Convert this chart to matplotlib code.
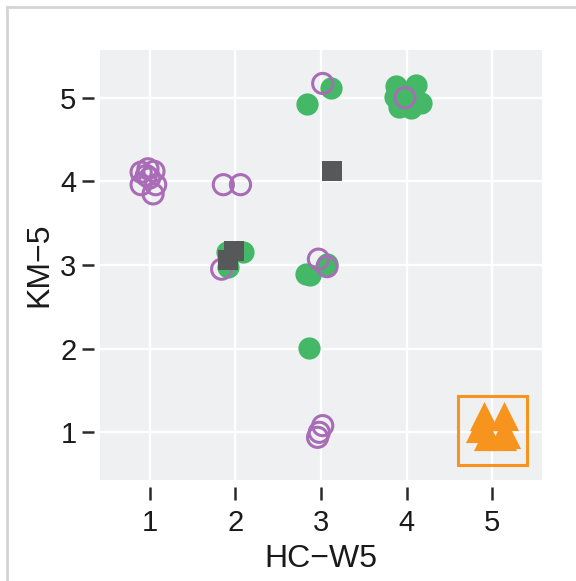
import matplotlib.pyplot as plt
from matplotlib.lines import Line2D
from matplotlib.patches import Rectangle

plt.rcParams['font.family'] = ['Liberation Sans', 'DejaVu Sans']

# green filled circles
green_x = [2.84, 3.12, 3.87, 4.11, 3.86, 3.91, 4.05, 4.17, 4.00, 4.07,
           1.90, 2.09, 1.91, 2.83, 2.87, 3.07, 2.86]
green_y = [4.93, 5.12, 5.14, 5.15, 5.01, 4.89, 4.88, 4.94, 5.01, 5.04,
           3.16, 3.15, 2.98, 2.89, 2.88, 3.01, 2.01]

# purple open circles
purple_x = [3.02, 3.98, 0.90, 0.98, 1.05, 0.90, 1.07, 1.04, 1.00, 0.96,
            1.86, 2.06, 1.84, 2.97, 3.07, 3.02, 2.98, 2.96]
purple_y = [5.17, 5.00, 4.11, 4.15, 4.12, 3.96, 3.96, 3.85, 4.04, 4.07,
            3.96, 3.96, 2.95, 3.07, 2.98, 1.08, 1.00, 0.94]

# dark squares
gray_x = [1.98, 1.91, 3.13]
gray_y = [3.17, 3.06, 4.12]

# orange triangles
orange_x = [4.90, 5.14, 4.86, 4.95, 5.11, 5.16]
orange_y = [1.19, 1.19, 1.05, 0.95, 0.95, 0.98]

ticks = [1, 2, 3, 4, 5]

fig = plt.figure(figsize=(5.76, 5.81), dpi=100)
ax = fig.add_axes([100/576, 1 - 480/581, 442/576, 430/581])
ax.set_facecolor('#eff0f2')

ax.scatter(green_x, green_y, s=16**2, c='#44b866', linewidths=0, zorder=3)
ax.scatter(purple_x, purple_y, s=14.5**2, facecolors='none',
           edgecolors='#a96cb6', linewidths=2.2, zorder=4)
ax.scatter(gray_x, gray_y, marker='s', s=15**2, c='#57585a', linewidths=0, zorder=5)
ax.scatter(orange_x, orange_y, marker='^', s=21**2, c='#f7941d', linewidths=0, zorder=6)

# box around the orange group
ax.add_patch(Rectangle((4.6, 0.61), 0.81, 0.82, fill=False, ec='#f7941d',
                       lw=2.2, zorder=7))

ax.set_xlim(0.42, 5.58)
ax.set_ylim(0.43, 5.57)
ax.set_xticks(ticks)
ax.set_yticks(ticks)

for sp in ax.spines.values():
    sp.set_visible(False)
ax.spines['bottom'].set_position(('outward', 5))
ax.spines['left'].set_position(('outward', 4))

ax.tick_params(direction='out', length=9, width=1.8, color='#2a2a2a',
               labelsize=21, labelcolor='#1a1a1a')
ax.tick_params(axis='x', pad=7)
ax.tick_params(axis='y', pad=4)
ax.grid(color='white', lw=1.7)
ax.set_axisbelow(True)

ax.set_xlabel('HC\u2212W5', fontsize=23, labelpad=5, color='#1a1a1a')
ax.set_ylabel('KM\u22125', fontsize=23, labelpad=4, color='#1a1a1a')

# light frame at the top and left edge
fig.add_artist(Line2D([7/576, 7/576], [0, 1 - 7/581], transform=fig.transFigure,
                      color='#d4d4d4', lw=2))
fig.add_artist(Line2D([7/576, 1], [1 - 7/581, 1 - 7/581], transform=fig.transFigure,
                      color='#d4d4d4', lw=2))

fig.savefig('out.png', dpi=100)
